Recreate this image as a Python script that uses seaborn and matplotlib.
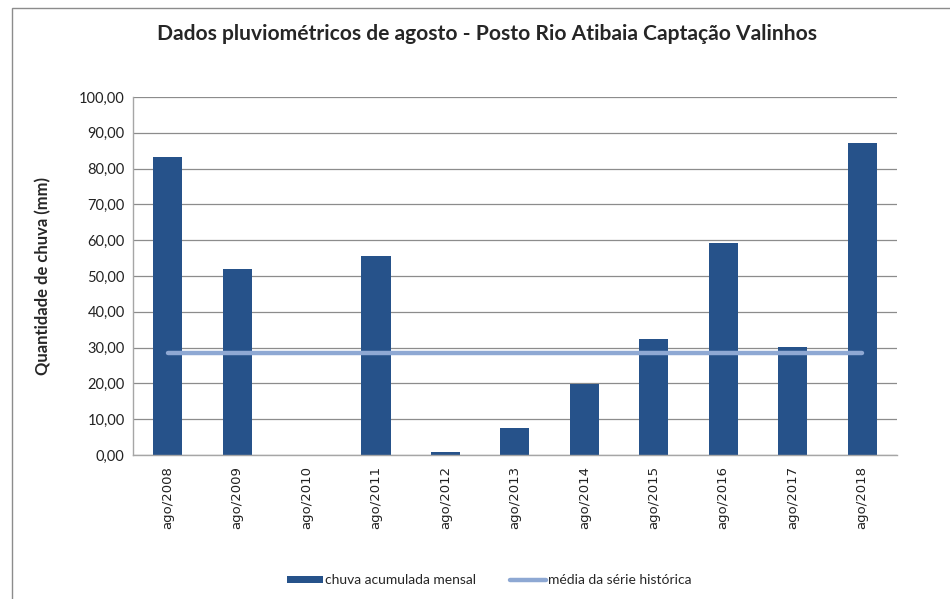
import matplotlib
matplotlib.use("Agg")
import matplotlib.pyplot as plt
import seaborn as sns
import pandas as pd
from matplotlib.patches import Rectangle, Patch
from matplotlib.lines import Line2D

sns.set_theme(style="white")
plt.rcParams['font.family'] = ['Lato', 'DejaVu Sans']

# dados
meses = ['ago/2008', 'ago/2009', 'ago/2010', 'ago/2011', 'ago/2012', 'ago/2013',
         'ago/2014', 'ago/2015', 'ago/2016', 'ago/2017', 'ago/2018']
chuva = [83.2, 52.0, 0.0, 55.6, 0.8, 7.5, 19.8, 32.4, 59.2, 30.2, 87.2]
media_historica = 28.5
yticks = [0, 10, 20, 30, 40, 50, 60, 70, 80, 90, 100]

cor_barra = '#26528A'
cor_linha = '#8EA8D3'

df = pd.DataFrame({'mes': meses, 'chuva': chuva, 'media': [media_historica] * len(meses)})

fig = plt.figure(figsize=(9.5, 5.99), dpi=100)
ax = fig.add_axes([0.140, 0.2404, 0.804, 0.5976])

sns.barplot(data=df, x='mes', y='chuva', color=cor_barra, width=0.42,
            saturation=1, linewidth=0, ax=ax)
sns.lineplot(data=df, x='mes', y='media', color=cor_linha, linewidth=3.2,
             solid_capstyle='round', ax=ax)

ax.set_ylim(0, 100)
ax.set_xlim(-0.5, len(meses) - 0.5)
ax.set_yticks(yticks)
ax.set_yticklabels([f'{v:.2f}'.replace('.', ',') for v in yticks], fontsize=10.5, color='#222222')
ax.set_xticks(range(len(meses)))
ax.set_xticklabels(meses, rotation=90, fontsize=9.5, family='DejaVu Sans', color='#222222')
ax.tick_params(axis='both', length=0, pad=6)
ax.tick_params(axis='x', pad=8)

ax.yaxis.grid(True, color='#8c8c8c', linewidth=0.9)
ax.set_axisbelow(True)
for side in ['top', 'right']:
    ax.spines[side].set_visible(False)
for side in ['left', 'bottom']:
    ax.spines[side].set_color('#a6a6a6')
    ax.spines[side].set_linewidth(1.0)

ax.set_xlabel('')
ax.set_ylabel('Quantidade de chuva (mm)', fontsize=12, fontweight='bold', labelpad=20)

fig.text(0.513, 0.944, 'Dados pluviométricos de agosto - Posto Rio Atibaia Captação Valinhos',
         ha='center', va='center', fontsize=15.1, fontweight='bold')

handles = [Patch(facecolor=cor_barra, edgecolor='none'),
           Line2D([0], [0], color=cor_linha, linewidth=3.2, solid_capstyle='round')]
fig.legend(handles, ['chuva acumulada mensal', 'média da série histórica'],
           loc='center', bbox_to_anchor=(0.515, 0.031), ncol=2, frameon=False,
           fontsize=10, handlelength=2.6, handleheight=0.5, handletextpad=0.1,
           columnspacing=2.5)

# moldura da área do gráfico
fig.patches.append(Rectangle((0.013, -0.01), 1.0, 0.997, transform=fig.transFigure,
                             fill=False, edgecolor='#8c8c8c', linewidth=1.0))

fig.savefig('out.png', dpi=100)
